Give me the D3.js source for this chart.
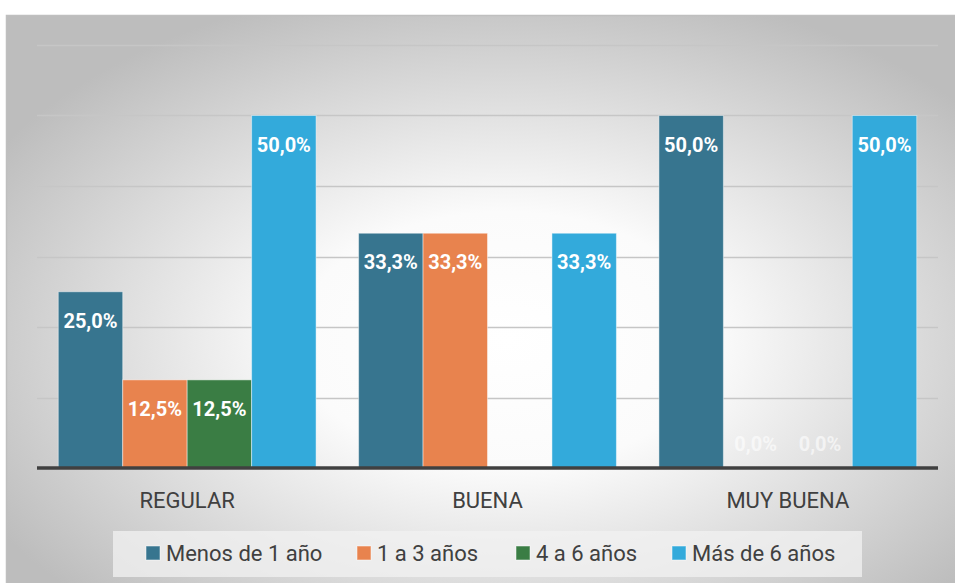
<!DOCTYPE html>
<html>
<head>
<meta charset="utf-8">
<script src="https://cdn.jsdelivr.net/npm/d3@7"></script>
<style>
    body { margin: 0; background: #fff; }
    text { font-family: Roboto, "Noto Sans", sans-serif; }
</style>
</head>
<body>
<svg id="chart" width="955" height="583"></svg>
<script>

// Chart data
const categories = ["REGULAR", "BUENA", "MUY BUENA"];
const seriesNames = ["Menos de 1 año", "1 a 3 años", "4 a 6 años", "Más de 6 años"];
const seriesColors = ["#37758F", "#E8834E", "#3A7D44", "#33AADB"];
const menosDe1 = [25.0, 33.3, 50.0];
const de1a3 = [12.5, 33.3, 0.0];
const de4a6 = [12.5, 0.0, 0.0];
const masDe6 = [50.0, 33.3, 50.0];
const yTicks = [0, 10, 20, 30, 40, 50, 60];

const seriesValues = [menosDe1, de1a3, de4a6, masDe6];

const plot = { left: 37, right: 938, top: 45, bottom: 468 };

const svg = d3.select("#chart");

// Background gradient frame
const defs = svg.append("defs");
const grad = defs.append("radialGradient")
    .attr("id", "bg")
    .attr("cx", "52%").attr("cy", "55%")
    .attr("r", "62%");
grad.append("stop").attr("offset", "0%").attr("stop-color", "#ffffff");
grad.append("stop").attr("offset", "35%").attr("stop-color", "#fbfbfb");
grad.append("stop").attr("offset", "100%").attr("stop-color", "#bdbdbd");

svg.append("rect")
    .attr("x", 6.5).attr("y", 15.5)
    .attr("width", 960).attr("height", 590)
    .attr("fill", "url(#bg)")
    .attr("stroke", "#bfbfbf")
    .attr("stroke-width", 1.5);

// Scales
const x0 = d3.scaleBand()
    .domain(categories)
    .range([plot.left, plot.right])
    .paddingInner(0)
    .paddingOuter(0);

const x1 = d3.scaleBand()
    .domain(seriesNames)
    .range([0, x0.bandwidth()])
    .paddingOuter(0.33)
    .paddingInner(0);

const y = d3.scaleLinear()
    .domain([0, 60])
    .range([plot.bottom, plot.top]);

// Gridlines
svg.append("g")
    .selectAll("line")
    .data(yTicks.slice(1))
    .join("line")
        .attr("x1", plot.left).attr("x2", plot.right)
        .attr("y1", d => Math.round(y(d)) + 0.5)
        .attr("y2", d => Math.round(y(d)) + 0.5)
        .attr("stroke", "#c6c6c6")
        .attr("stroke-width", 1.3);

// Bars
const rows = [];
categories.forEach((c, i) => {
    seriesNames.forEach((s, j) => {
        rows.push({ cat: c, series: s, color: seriesColors[j], value: seriesValues[j][i] });
    });
});

const groups = svg.append("g");

groups.selectAll("rect")
    .data(rows.filter(d => d.value > 0))
    .join("rect")
        .attr("x", d => x0(d.cat) + x1(d.series))
        .attr("y", d => y(d.value))
        .attr("width", x1.bandwidth())
        .attr("height", d => y(0) - y(d.value))
        .attr("fill", d => d.color)
        .attr("stroke", "rgba(255,255,255,0.45)")
        .attr("stroke-width", 1);

// Data labels
const fmt = v => v.toFixed(1).replace(".", ",") + "%";

groups.selectAll("text")
    .data(rows.filter(d => d.value > 0 || d.cat === "MUY BUENA"))
    .join("text")
        .attr("x", d => x0(d.cat) + x1(d.series) + x1.bandwidth() / 2)
        .attr("y", d => d.value > 0 ? y(d.value) + 36 : y(0) - 17)
        .attr("text-anchor", "middle")
        .attr("font-size", 20)
        .attr("font-weight", "bold")
        .attr("fill", "#ffffff")
        .attr("fill-opacity", d => d.value > 0 ? 1 : 0.6)
        .text(d => fmt(d.value));

// Baseline
svg.append("line")
    .attr("x1", plot.left).attr("x2", plot.right)
    .attr("y1", y(0)).attr("y2", y(0))
    .attr("stroke", "#404040")
    .attr("stroke-width", 3.5);

// Category axis
svg.append("g")
    .attr("transform", `translate(0,${plot.bottom})`)
    .call(d3.axisBottom(x0).tickSize(0).tickPadding(24))
    .call(g => g.select(".domain").remove())
    .call(g => g.selectAll("text")
        .attr("font-size", 22)
        .attr("font-family", "Roboto, sans-serif")
        .attr("fill", "#404040"));

// Legend
const legend = svg.append("g");
legend.append("rect")
    .attr("x", 113).attr("y", 531)
    .attr("width", 749).attr("height", 46)
    .attr("fill", "#f2f2f2")
    .attr("fill-opacity", 0.75);

const legendX = [146, 357, 516, 672];
const items = legend.selectAll("g.item")
    .data(seriesNames)
    .join("g")
        .classed("item", true)
        .attr("transform", (d, i) => `translate(${legendX[i]},553)`);

items.append("rect")
    .attr("x", 0).attr("y", -7)
    .attr("width", 14).attr("height", 14)
    .attr("fill", (d, i) => seriesColors[i])
    .attr("stroke", "rgba(255,255,255,0.5)");

items.append("text")
    .attr("x", 20)
    .attr("dy", "0.35em")
    .attr("font-size", 22)
    .attr("fill", "#404040")
    .text(d => d);

</script>
</body>
</html>
